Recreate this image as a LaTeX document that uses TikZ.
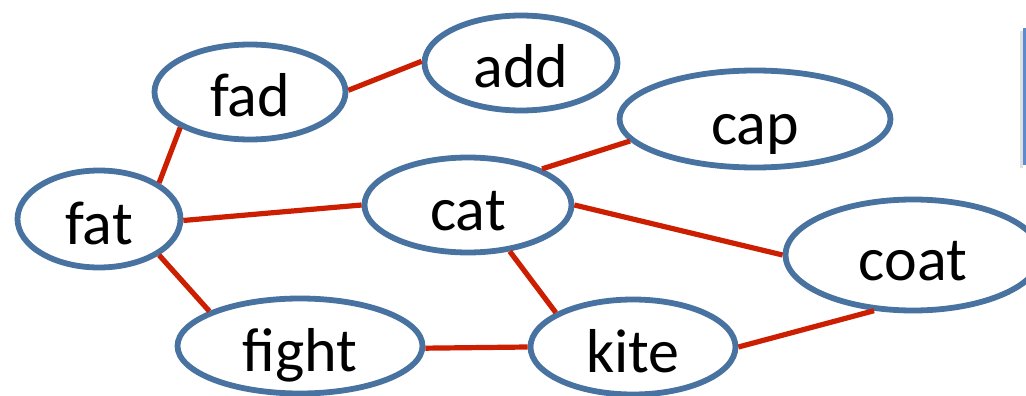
\documentclass[tikz,border=0pt]{standalone}
\usepackage{fontspec}
\setmainfont{Carlito}
\usetikzlibrary{shapes.geometric}
\definecolor{nodeblue}{RGB}{72,114,160}
\definecolor{edgered}{RGB}{204,30,0}
\definecolor{boxblue}{RGB}{92,140,205}
\tikzset{
  word/.style={ellipse, draw=nodeblue, line width=5.8pt, inner sep=0pt,
    font=\fontsize{62}{70}\selectfont, text height=50pt, text depth=0pt},
  link/.style={draw=edgered, line width=5.2pt}
}
\begin{document}
\begin{tikzpicture}[x=1pt,y=-1pt]
\useasboundingbox (0,0) rectangle (1026,396);
\clip (0,0) rectangle (1026,396);
% partial box at right edge
\fill[black!12] (1020,31) rectangle (1023,168);
\draw[boxblue, line width=2.5pt] (1024.5,28) -- (1024.5,165);
% nodes
\node[word, minimum width=191pt, minimum height=95pt] (fad) at (250,92) {fad};
\node[word, minimum width=193pt, minimum height=95pt] (add) at (521,63) {add};
\node[word, minimum width=271pt, minimum height=97pt] (cap) at (755,119) {cap};
\node[word, minimum width=163pt, minimum height=97pt] (fat) at (99,219) {fat};
\node[word, minimum width=207pt, minimum height=95pt] (cat) at (468,205) {cat};
\node[word, minimum width=255pt, minimum height=111pt] (coat) at (913,255) {coat};
\node[word, minimum width=245pt, minimum height=95pt] (fight) at (300,346) {fight};
\node[word, minimum width=205pt, minimum height=95pt] (kite) at (633,347) {kite};
% edges
\draw[link] (fad.1) -- (add.179);
\draw[link] (fad.207) -- (fat.31);
\draw[link] (fat.359) -- (cat.180);
\draw[link] (fat.329) -- (fight.159);
\draw[link] (fight.359) -- (kite.180);
\draw[link] (cat.26) -- (cap.190);
\draw[link] (cat.0) -- (coat.180);
\draw[link] (cat.312) -- (kite.156);
\draw[link] (kite.0) -- (coat.235);
\end{tikzpicture}
\end{document}
